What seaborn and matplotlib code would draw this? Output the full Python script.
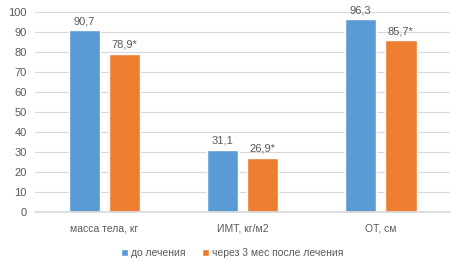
import pandas as pd
import matplotlib
matplotlib.use("Agg")
import matplotlib.pyplot as plt
import seaborn as sns

categories = ["масса тела, кг", "ИМТ, кг/м2", "ОТ, см"]
series = ["до лечения", "через 3 мес после лечения"]
before = [90.7, 31.1, 96.3]
after = [78.9, 26.9, 85.7]
before_labels = ["90,7", "31,1", "96,3"]
after_labels = ["78,9*", "26,9*", "85,7*"]

BLUE = "#5B9BD5"
ORANGE = "#ED7D31"
GREY = "#595959"
GRID = "#D9D9D9"

df = pd.DataFrame({
    "cat": categories * 2,
    "value": before + after,
    "group": [series[0]] * 3 + [series[1]] * 3,
})

sns.set_theme(style="white")
plt.rcParams["font.family"] = ["Liberation Sans", "DejaVu Sans"]

fig = plt.figure(figsize=(4.62, 2.70), dpi=100)
ax = fig.add_axes([0.076, 0.215, 0.898, 0.741])

sns.barplot(data=df, x="cat", y="value", hue="group", order=categories,
            hue_order=series, palette=[BLUE, ORANGE], width=0.58, gap=0.22,
            saturation=1, ax=ax, legend=True)

for cont, labs in zip(ax.containers, [before_labels, after_labels]):
    ax.bar_label(cont, labels=labs, padding=3, fontsize=8, color=GREY)

ax.set_ylim(0, 100)
ax.set_xlim(-0.5, 2.5)
ax.set_yticks(range(0, 101, 10))
ax.yaxis.grid(True, color=GRID, linewidth=0.8)
ax.set_axisbelow(True)
ax.set_xlabel("")
ax.set_ylabel("")
ax.tick_params(axis="both", length=0, labelsize=8, colors=GREY)
ax.tick_params(axis="x", pad=8, labelsize=7.5)
ax.tick_params(axis="y", pad=6)
for s in ["top", "right", "left"]:
    ax.spines[s].set_visible(False)
ax.spines["bottom"].set_color(GRID)

handles, labels = ax.get_legend_handles_labels()
ax.legend(handles, labels, loc="center", bbox_to_anchor=(0.475, -0.205),
          ncol=2, frameon=False, fontsize=7.5, handlelength=0.7,
          handleheight=0.7, handletextpad=0.3, columnspacing=1.5,
          labelcolor=GREY)

fig.savefig("out.png", dpi=100)
